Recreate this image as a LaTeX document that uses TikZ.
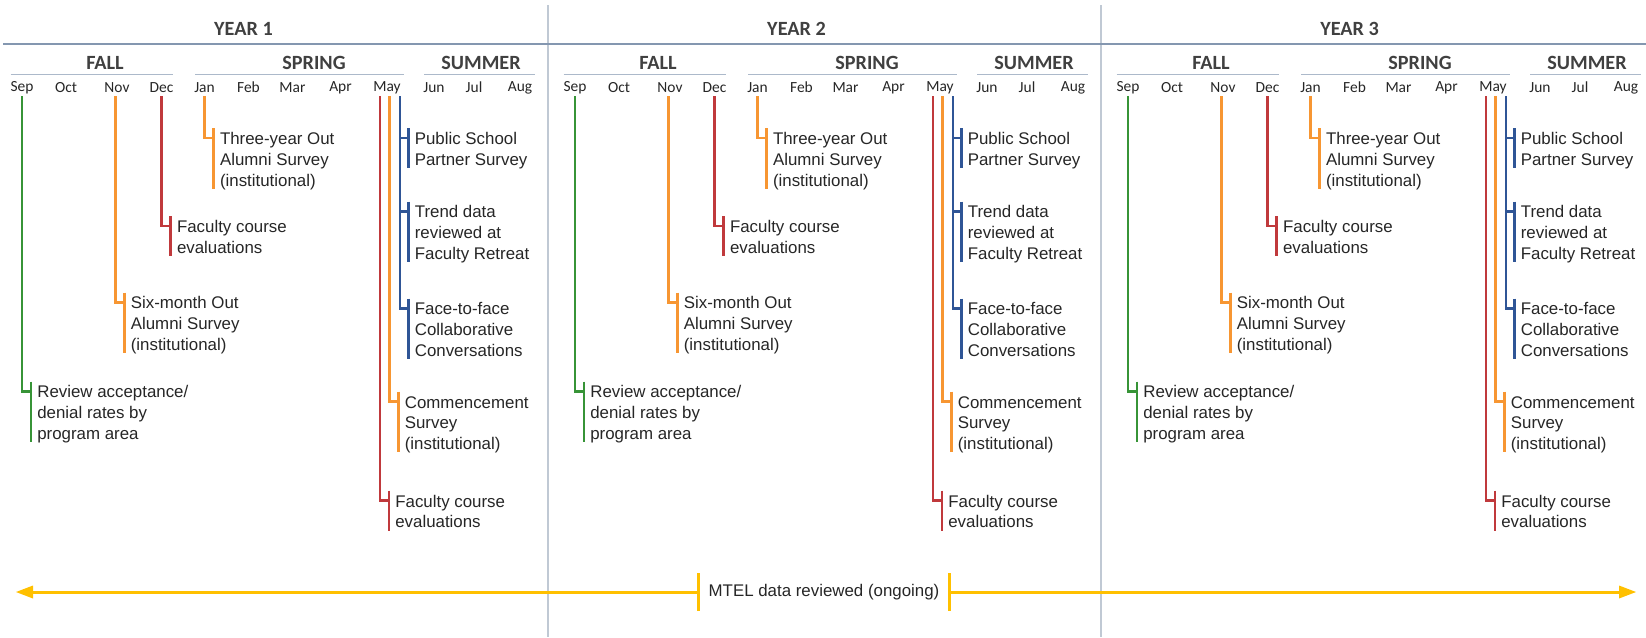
\documentclass[tikz,border=0pt]{standalone}
\usepackage{fontspec}
\setmainfont{Liberation Sans}
\newfontfamily\hdfont{Carlito}
\usepackage{xcolor}
\usepackage{tikz}
\definecolor{grn}{RGB}{55,148,55}
\definecolor{orng}{RGB}{247,150,50}
\definecolor{rd}{RGB}{192,57,60}
\definecolor{blu}{RGB}{47,85,150}
\definecolor{gold}{RGB}{255,192,0}
\definecolor{sepgray}{RGB}{192,201,212}
\definecolor{yeargray}{RGB}{132,151,176}
\definecolor{seasongray}{RGB}{172,185,202}

\begin{document}
\begin{tikzpicture}[x=0.02cm,y=-0.02cm]
\tikzstyle{every node}+=[inner sep=0pt]
\tikzstyle{lbl}=[anchor=north west,align=left,font=\fontsize{9.6}{11.85}\selectfont,text=black!85]
\tikzstyle{hd}=[font=\hdfont\bfseries\fontsize{11.5}{13}\selectfont,text=black!75]
\tikzstyle{mon}=[font=\hdfont\fontsize{8.8}{10}\selectfont,text=black!85]
\tikzstyle{ln}=[line width=1.6pt]
\useasboundingbox (0,0) rectangle (1646,637);
\draw [sepgray,line width=1.1pt] (548,5) -- (548,637);
\draw [sepgray,line width=1.1pt] (1101,5) -- (1101,637);
\draw [yeargray,line width=1.1pt] (3,44) -- (1646,44);
\foreach \i in {1,2,3} {
\begin{scope}[shift={({(\i-1)*553},0)}]
\node [hd] (year\i) at (243.5,28.5) {YEAR \i};
\node [hd] (fall\i) at (105,63) {FALL};
\node [hd] (spring\i) at (314,63) {SPRING};
\node [hd] (summer\i) at (481,63) {SUMMER};
\draw [seasongray,line width=1.1pt] (10.5,74.5) -- (173,74.5);
\draw [seasongray,line width=1.1pt] (195,74.5) -- (404,74.5);
\draw [seasongray,line width=1.1pt] (424,74.5) -- (535,74.5);
\foreach \m/\mx in {Sep/22,Oct/66,Nov/117,Dec/161.5,Jan/204.5,Feb/248.5,Mar/292.5,Apr/340.5,May/387,Jun/434,Jul/474,Aug/520}
  \node [mon] (\m\i) at (\mx,87.5) {\m};
\coordinate (sep\i) at (22,96);
\coordinate (ksep\i) at (31,391.5);
\node [lbl] (tsep\i) at (37,383) {\strut Review acceptance/\\denial rates by\\program area};
\draw [ln,grn] (sep\i) |- (ksep\i);
\draw [ln,grn] (ksep\i) ++(0,-10) -- ++(0,60.6);
\coordinate (nov\i) at (115.5,96);
\coordinate (knov\i) at (124.5,302.5);
\node [lbl] (tnov\i) at (130.5,294) {\strut Six-month Out\\Alumni Survey\\(institutional)};
\draw [ln,orng] (nov\i) |- (knov\i);
\draw [ln,orng] (knov\i) ++(0,-10) -- ++(0,60.6);
\coordinate (dec\i) at (161.7,96);
\coordinate (kdec\i) at (170.7,226);
\node [lbl] (tdec\i) at (176.7,217.5) {\strut Faculty course\\evaluations};
\draw [ln,rd] (dec\i) |- (kdec\i);
\draw [ln,rd] (kdec\i) ++(0,-10) -- ++(0,39.8);
\coordinate (jan\i) at (204.7,96);
\coordinate (kjan\i) at (213.7,138);
\node [lbl] (tjan\i) at (219.7,129.5) {\strut Three-year Out\\Alumni Survey\\(institutional)};
\draw [ln,orng] (jan\i) |- (kjan\i);
\draw [ln,orng] (kjan\i) ++(0,-10) -- ++(0,60.6);
\coordinate (mayr\i) at (380,96);
\coordinate (kmayr\i) at (389,500.7);
\node [lbl] (tmayr\i) at (395,492.2) {\strut Faculty course\\evaluations};
\draw [ln,rd] (mayr\i) |- (kmayr\i);
\draw [ln,rd] (kmayr\i) ++(0,-10) -- ++(0,39.8);
\coordinate (mayo\i) at (389.5,96);
\coordinate (kmayo\i) at (398.5,401.7);
\node [lbl] (tmayo\i) at (404.5,393.2) {\strut Commencement\\Survey\\(institutional)};
\draw [ln,orng] (mayo\i) |- (kmayo\i);
\draw [ln,orng] (kmayo\i) ++(0,-10) -- ++(0,60.6);
\coordinate (mayb\i) at (400,96);
\coordinate (kpub\i) at (408.5,138);
\coordinate (ktrend\i) at (408.5,211.5);
\coordinate (kface\i) at (408.5,308.5);
\node [lbl] (tpub\i) at (414.5,129.5) {\strut Public School\\Partner Survey};
\node [lbl] (ttrend\i) at (414.5,203) {\strut Trend data\\reviewed at\\Faculty Retreat};
\node [lbl] (tface\i) at (414.5,300) {\strut Face-to-face\\Collaborative\\Conversations};
\draw [ln,blu] (mayb\i) |- (kface\i);
\draw [ln,blu] (mayb\i |- kpub\i) -- (kpub\i);
\draw [ln,blu] (mayb\i |- ktrend\i) -- (ktrend\i);
\draw [ln,blu] (kpub\i) ++(0,-10) -- ++(0,39.8);
\draw [ln,blu] (ktrend\i) ++(0,-10) -- ++(0,60.6);
\draw [ln,blu] (kface\i) ++(0,-10) -- ++(0,60.6);
\end{scope}
}
\node [font=\fontsize{9.6}{11.85}\selectfont,text=black!85,minimum width=5cm,minimum height=0.74cm] (mtel) at (824,592) {MTEL data reviewed (ongoing)};
\coordinate (lend) at (16,592);
\coordinate (rend) at (1636,592);
\draw [gold,line width=1.7pt,shorten >=0.2cm] (mtel.west) -- (lend);
\draw [gold,line width=1.7pt,shorten >=0.2cm] (mtel.east) -- (rend);
\fill [gold] (lend) -- ++(17,-6.5) -- ++(0,13) -- cycle;
\fill [gold] (rend) -- ++(-17,-6.5) -- ++(0,13) -- cycle;
\draw [gold,line width=1.4pt] (mtel.north west) -- (mtel.south west);
\draw [gold,line width=1.4pt] (mtel.north east) -- (mtel.south east);
\end{tikzpicture}
\end{document}
